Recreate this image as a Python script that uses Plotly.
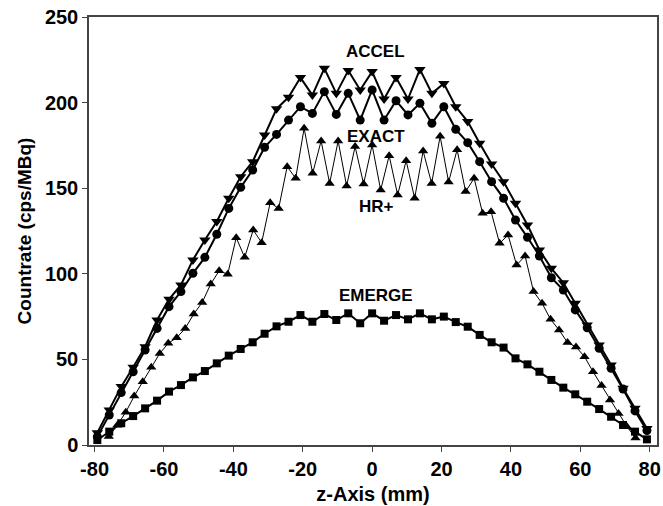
import plotly.graph_objects as go

# z positions (mm)
z_main = [-79.2, -75.76, -72.31, -68.87, -65.43, -61.98, -58.54, -55.10, -51.65, -48.21,
          -44.77, -41.32, -37.88, -34.43, -30.99, -27.55, -24.10, -20.66, -17.22, -13.77,
          -10.33, -6.89, -3.44, 0.0, 3.44, 6.89, 10.33, 13.77, 17.22, 20.66,
          24.10, 27.55, 30.99, 34.43, 37.88, 41.32, 44.77, 48.21, 51.65, 55.10,
          58.54, 61.98, 65.43, 68.87, 72.31, 75.76, 79.2]

z_hr = [-75.90, -73.45, -71.00, -68.56, -66.11, -63.66, -61.21, -58.76, -56.32, -53.87,
        -51.42, -48.97, -46.52, -44.08, -41.63, -39.18, -36.73, -34.28, -31.84, -29.39,
        -26.94, -24.49, -22.04, -19.60, -17.15, -14.70, -12.25, -9.80, -7.36, -4.91,
        -2.46, 0.0, 2.46, 4.91, 7.36, 9.80, 12.25, 14.70, 17.15, 19.60,
        22.04, 24.49, 26.94, 29.39, 31.84, 34.28, 36.73, 39.18, 41.63, 44.08,
        46.52, 48.97, 51.42, 53.87, 56.32, 58.76, 61.21, 63.66, 66.11, 68.56,
        71.00, 73.45, 75.90]

accel = [7.2, 20.4, 34.1, 45.4, 57.4, 73.0, 85.1, 93.5, 108.1, 119.7,
         130.5, 144.1, 156.7, 165.5, 181.1, 196.4, 203.1, 214.6, 204.4, 220.0,
         205.4, 218.7, 207.4, 218.1, 202.1, 214.6, 202.1, 219.4, 205.4, 211.1,
         197.6, 188.9, 176.2, 164.1, 153.8, 141.2, 128.5, 113.9, 103.2, 94.8,
         82.8, 70.1, 58.4, 46.7, 33.1, 21.4, 9.7]

exact = [4.9, 17.5, 30.6, 42.8, 55.5, 68.1, 80.8, 89.6, 100.3, 109.6,
         123.1, 138.2, 150.5, 160.6, 173.9, 181.4, 189.8, 197.6, 193.7, 206.4,
         193.1, 205.4, 189.8, 207.4, 189.8, 201.1, 192.8, 199.6, 187.9, 197.6,
         184.4, 176.6, 165.5, 153.8, 144.1, 131.4, 121.3, 110.4, 97.7, 90.5,
         78.9, 68.5, 56.5, 44.8, 32.7, 19.9, 8.4]

emerge = [2.9, 7.8, 12.7, 16.9, 21.4, 25.9, 31.2, 35.0, 39.5, 43.2,
          47.7, 52.2, 56.1, 60.0, 65.0, 69.3, 72.0, 75.9, 72.0, 76.5,
          73.0, 76.9, 71.1, 76.9, 72.6, 75.9, 73.4, 76.9, 73.4, 75.0,
          71.8, 69.1, 64.3, 60.0, 56.9, 50.6, 47.1, 42.8, 38.0, 33.5,
          29.6, 25.3, 21.0, 16.5, 11.7, 7.8, 3.3]

hrplus = [4.9, 11.5, 19.2, 28.6, 37.0, 45.4, 53.5, 59.4, 62.7, 68.1,
          76.5, 83.3, 94.0, 101.8, 99.7, 121.1, 109.6, 125.6, 118.2, 141.5,
          138.2, 162.6, 155.8, 185.0, 158.7, 177.6, 152.8, 177.6, 151.3, 174.3,
          152.5, 175.2, 148.9, 169.0, 146.0, 166.1, 144.1, 171.7, 152.8, 180.3,
          153.6, 172.5, 148.0, 155.8, 135.3, 136.3, 117.8, 122.7, 105.1, 110.4,
          89.6, 82.8, 73.4, 67.2, 59.8, 57.3, 51.6, 42.8, 34.8, 26.3,
          18.4, 10.7, 4.1]

x_tickvals = [-80, -60, -40, -20, 0, 20, 40, 60, 80]
x_ticktext = ["-80", "-60", "-40", "-20", "0", "20", "40", "60", "80"]
y_tickvals = [0, 50, 100, 150, 200, 250]

labels = ["ACCEL", "EXACT", "HR+", "EMERGE"]
label_x = [1.1, 1.1, 1.3, 1.1]
label_y = [229.8, 180.2, 139.2, 87.6]

FONT = "Liberation Sans, Arial, Helvetica, sans-serif"
BLACK = "#000000"

fig = go.Figure()

fig.add_trace(go.Scatter(x=z_hr, y=hrplus, mode="lines+markers", cliponaxis=False,
                         line=dict(color=BLACK, width=1),
                         marker=dict(symbol="triangle-up", size=9, color=BLACK)))
fig.add_trace(go.Scatter(x=z_main, y=emerge, mode="lines+markers", cliponaxis=False,
                         line=dict(color=BLACK, width=2),
                         marker=dict(symbol="square", size=8, color=BLACK)))
fig.add_trace(go.Scatter(x=z_main, y=exact, mode="lines+markers", cliponaxis=False,
                         line=dict(color=BLACK, width=2),
                         marker=dict(symbol="circle", size=9, color=BLACK)))
fig.add_trace(go.Scatter(x=z_main, y=accel, mode="lines+markers", cliponaxis=False,
                         line=dict(color=BLACK, width=2),
                         marker=dict(symbol="triangle-down", size=10, color=BLACK)))

for t, xx, yy in zip(labels, label_x, label_y):
    fig.add_annotation(x=xx, y=yy, text=t, showarrow=False,
                       font=dict(family=FONT, size=17, color=BLACK, weight="bold"))

axis_common = dict(showline=True, mirror=True, linecolor="#444444", linewidth=1.5,
                   ticks="outside", ticklen=5, tickwidth=1.2, tickcolor="#444444",
                   showgrid=False, zeroline=False, automargin=False,
                   tickfont=dict(family=FONT, size=20, color=BLACK, weight="bold"))

fig.update_layout(
    width=663, height=506,
    margin=dict(l=89, r=6, t=17, b=61),
    paper_bgcolor="white", plot_bgcolor="white",
    showlegend=False,
    xaxis=dict(range=[-81.6, 82.1], tickmode="array", tickvals=x_tickvals, ticktext=x_ticktext,
               title=dict(text="z-Axis (mm)", standoff=8,
                          font=dict(family=FONT, size=20, color=BLACK, weight="bold")),
               **axis_common),
    yaxis=dict(range=[0, 250], tickmode="array", tickvals=y_tickvals,
               title=dict(text="Countrate (cps/MBq)", standoff=8,
                          font=dict(family=FONT, size=19, color=BLACK, weight="bold")),
               **axis_common),
)

fig.write_html("out.html", config={"displayModeBar": False},
               post_script="document.body.style.margin='0';document.body.style.overflow='hidden';")
